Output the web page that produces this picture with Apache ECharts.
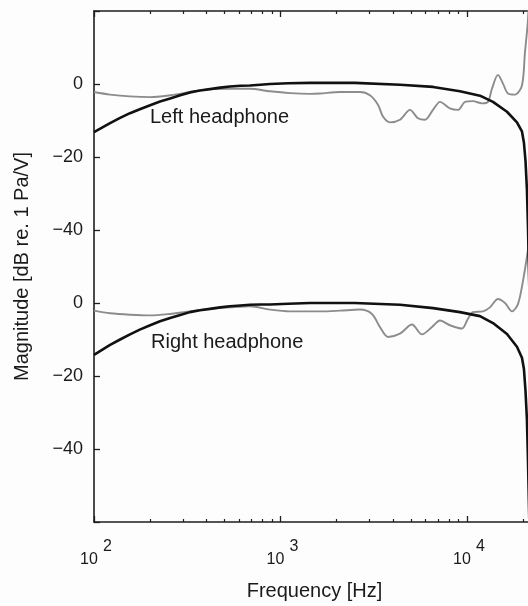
<!DOCTYPE html>
<html>
<head>
<meta charset="utf-8">
<script src="https://cdn.jsdelivr.net/npm/echarts@6/dist/echarts.min.js"></script>
<style>
  html, body { margin: 0; padding: 0; background: #fdfdfd; }
  #main { width: 528px; height: 606px; }
</style>
</head>
<body>
<div id="main"></div>
<script>
// frequency points (Hz) for the two model curves (black)
var modelHz = [100, 111, 122, 138, 156, 176, 200, 226, 256, 290, 327, 370, 419, 475, 535, 610, 686, 780, 879, 1100, 1440, 2500, 4375, 6580, 9170, 11740, 13790, 16390, 18540, 19720, 20200, 20600, 20970, 21240, 21600, 22050];
var leftModelDb = [-13.2, -11.9, -10.7, -9.3, -8.0, -6.9, -5.8, -4.8, -4.0, -3.1, -2.3, -1.8, -1.4, -1.0, -0.7, -0.5, -0.4, -0.2, 0, 0.2, 0.3, 0.3, -0.2, -0.8, -2.0, -3.2, -4.9, -7.6, -10.5, -13, -16, -21, -29, -39, -56, -130];
var rightModelDb = [-14.2, -12.8, -11.5, -10.0, -8.6, -7.3, -6.1, -5.0, -4.1, -3.3, -2.5, -2.0, -1.6, -1.2, -0.9, -0.7, -0.5, -0.4, -0.4, -0.2, 0, 0, -0.5, -1.4, -2.5, -3.6, -5.5, -8.5, -12, -15, -18, -24, -32, -43, -60, -130];

// measured responses (gray)
var leftMeasHz = [100, 122, 156, 200, 255, 327, 418, 536, 685, 877, 1125, 1440, 1628, 2084, 2669, 3019, 3333, 3545, 3865, 4374, 4948, 5463, 5955, 6572, 7167, 8106, 8949, 9757, 10770, 12035, 12960, 13615, 14665, 15600, 16590, 18090, 19720, 20460, 21240, 22050];
var leftMeasDb = [-2.2, -2.9, -3.4, -3.6, -3.1, -2.2, -1.4, -1.3, -1.3, -2.0, -2.5, -2.7, -2.6, -2.2, -2.2, -3.1, -5.7, -8.9, -10.5, -9.8, -7.1, -9.4, -9.8, -7.1, -4.9, -6.7, -7.1, -4.9, -4.7, -5.3, -4.9, -1.3, 2.5, 0.1, -2.6, -2.9, -0.4, 8.6, 17.6, 35];
var rightMeasHz = [100, 122, 156, 200, 255, 327, 418, 536, 685, 877, 1125, 1440, 1628, 2084, 2669, 3094, 3416, 3771, 4374, 5072, 5739, 6493, 7167, 8106, 9402, 10125, 10770, 12180, 13285, 14665, 15990, 17430, 18770, 19970, 21240, 22050];
var rightMeasDb = [-2.1, -2.8, -3.2, -3.4, -3.0, -2.3, -1.6, -1.2, -0.9, -1.8, -2.3, -2.3, -2.3, -2.1, -1.8, -3.0, -6.6, -9.3, -8.4, -5.9, -8.6, -6.6, -4.8, -6.1, -7.0, -4.3, -2.5, -2.3, -1.2, 1.1, 0, -2.3, -0.3, 6.0, 14.5, 20];

// the right headphone panel is drawn 60 dB lower on the same axis
var lowerOffset = -60;

var yTickValues = [0, -20, -40, -60, -80, -100];
var yTickLabels = ['0', '\u221220', '\u221240', '0', '\u221220', '\u221240'];
var xMajorHz = [100, 1000, 10000];
var xMinorHz = [200, 300, 400, 500, 600, 700, 800, 900, 2000, 3000, 4000, 5000, 6000, 7000, 8000, 9000, 20000];
var xMinHz = 100;
var xMaxHz = 22050;

function pairs(hz, db, off) {
  var out = [];
  for (var i = 0; i < hz.length; i++) {
    out.push([hz[i], db[i] + off]);
  }
  return out;
}

var myChart = echarts.init(document.getElementById('main'));

var font = '"Liberation Sans", Arial, sans-serif';
var axisColor = '#1e1e1e';
var textColor = '#1a1a1a';

// main log axes (bottom with labels, top as frame)
function logAxis(pos, withLabel) {
  return {
    type: 'log',
    logBase: 10,
    min: xMinHz,
    max: xMaxHz,
    position: pos,
    axisLine: { show: true, onZero: false, lineStyle: { color: axisColor, width: 1.6 } },
    axisTick: { show: true, inside: true, length: 6, lineStyle: { color: axisColor, width: 1.3 } },
    axisLabel: withLabel ? {
      show: true,
      customValues: xMajorHz,
      margin: 23,
      formatter: function (v) {
        var e = Math.round(Math.log(v) / Math.LN10);
        // exponent on a first short line, shifted right; base below
        return '{e|' + e + '}\n{b|10}';
      },
      rich: {
        b: { fontFamily: font, fontSize: 16, color: textColor, lineHeight: 22, padding: [0, 10, 0, 0] },
        e: { fontFamily: font, fontSize: 16, color: textColor, lineHeight: 4, padding: [0, 0, 0, 27] }
      }
    } : { show: false },
    splitLine: { show: false },
    name: withLabel ? 'Frequency [Hz]' : '',
    nameLocation: 'middle',
    nameGap: 59,
    nameTextStyle: { fontFamily: font, fontSize: 20, color: textColor, padding: [0, 0, 0, 4] }
  };
}

// minor tick axes, in log10 units so the ticks sit at 2..9 of each decade
function minorAxis(pos) {
  return {
    type: 'value',
    min: Math.log10(xMinHz),
    max: Math.log10(xMaxHz),
    position: pos,
    axisLine: { show: false, onZero: false },
    axisTick: { show: true, inside: true, length: 3, customValues: xMinorHz.map(function (f) { return Math.log10(f); }),
      lineStyle: { color: axisColor, width: 1.2 } },
    axisLabel: { show: false },
    splitLine: { show: false }
  };
}

var option = {
  backgroundColor: '#fdfdfd',
  animation: false,
  // the plot runs a few pixels past the right edge of the picture, as in the cropped original
  grid: { left: 94, top: 11, right: -3, bottom: 84, outerBoundsMode: 'none' },
  xAxis: [logAxis('bottom', true), minorAxis('bottom'), logAxis('top', false), minorAxis('top')],
  yAxis: {
    type: 'value',
    min: -120,
    max: 20,
    interval: 20,
    axisLine: { show: true, lineStyle: { color: axisColor, width: 1.6 } },
    axisTick: { show: true, inside: true, length: 6, lineStyle: { color: axisColor, width: 1.3 } },
    axisLabel: {
      show: true,
      margin: 11,
      fontFamily: font,
      fontSize: 18,
      color: textColor,
      formatter: function (v) {
        var i = yTickValues.indexOf(v);
        return i >= 0 ? yTickLabels[i] : '';
      }
    },
    splitLine: { show: false },
    name: 'Magnitude [dB re. 1 Pa/V]',
    nameLocation: 'middle',
    nameGap: 62,
    nameTextStyle: { fontFamily: font, fontSize: 20, color: textColor }
  },
  series: [
    {
      name: 'Left measured', type: 'line', xAxisIndex: 0, showSymbol: false, smooth: 0.3,
      lineStyle: { color: '#8c8c8c', width: 1.9 },
      data: pairs(leftMeasHz, leftMeasDb, 0)
    },
    {
      name: 'Right measured', type: 'line', xAxisIndex: 0, showSymbol: false, smooth: 0.3,
      lineStyle: { color: '#8c8c8c', width: 1.9 },
      data: pairs(rightMeasHz, rightMeasDb, lowerOffset)
    },
    {
      name: 'Left model', type: 'line', xAxisIndex: 0, showSymbol: false, smooth: false,
      lineStyle: { color: '#111', width: 2.6, join: 'round' },
      data: pairs(modelHz, leftModelDb, 0)
    },
    {
      name: 'Right model', type: 'line', xAxisIndex: 0, showSymbol: false, smooth: false,
      lineStyle: { color: '#111', width: 2.6, join: 'round' },
      data: pairs(modelHz, rightModelDb, lowerOffset)
    }
  ],
  graphic: [
    { type: 'text', left: 150, top: 107, style: { text: 'Left headphone', font: '20px ' + font, fill: textColor } },
    { type: 'text', left: 151, top: 332, style: { text: 'Right headphone', font: '20px ' + font, fill: textColor } }
  ]
};

myChart.setOption(option);
</script>
</body>
</html>
